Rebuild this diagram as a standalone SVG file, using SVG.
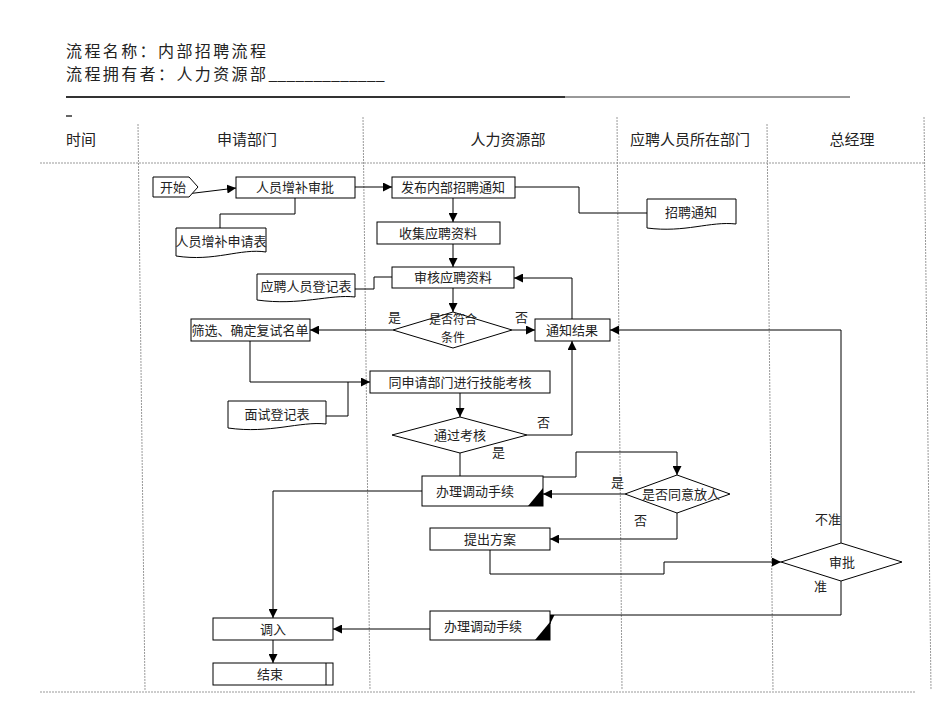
<svg xmlns="http://www.w3.org/2000/svg" width="950" height="713" viewBox="0 0 950 713">
<style>
text{font-family:"Noto Sans CJK SC","Liberation Serif",sans-serif;fill:#222;}
.t{font-size:13px;text-anchor:middle;}
.t2{font-size:12px;text-anchor:middle;}
.lbl{font-size:13px;}
.hd{font-size:15px;}
.ttl{font-size:16px;letter-spacing:2.4px;}
.box{fill:#fff;stroke:#000;stroke-width:1;}
.ln{fill:none;stroke:#000;stroke-width:1;}
.lane{fill:none;stroke:#999;stroke-width:1;stroke-dasharray:2,1;}
</style>
<defs>
<marker id="ah" viewBox="0 0 10 10" refX="10" refY="5" markerWidth="9" markerHeight="9" markerUnits="userSpaceOnUse" orient="auto">
<path d="M0,0 L10,5 L0,10 Z" fill="#000"/>
</marker>
</defs>
<rect width="950" height="713" fill="#fff"/>
<g id="header">
<text class="ttl" x="66" y="57">流程名称：内部招聘流程</text>
<text class="ttl" x="66" y="80">流程拥有者：人力资源部<tspan letter-spacing="0">_____________</tspan></text>
<line x1="66" y1="97" x2="565" y2="97" stroke="#333" stroke-width="2"/>
<line x1="565" y1="97" x2="850" y2="97" stroke="#333" stroke-width="1"/>
<line x1="66" y1="116" x2="72" y2="116" stroke="#333" stroke-width="1.5"/>
<text class="hd" x="66" y="145">时间</text>
<text class="hd" x="247" y="145" text-anchor="middle">申请部门</text>
<text class="hd" x="508" y="145" text-anchor="middle">人力资源部</text>
<text class="hd" x="690" y="145" text-anchor="middle">应聘人员所在部门</text>
<text class="hd" x="852" y="145" text-anchor="middle">总经理</text>
</g>
<g id="lanes">
<line class="lane" x1="40" y1="163" x2="924" y2="163"/>
<line class="lane" x1="40" y1="692" x2="915" y2="692"/>
<line class="lane" x1="138" y1="124" x2="145" y2="690"/>
<line class="lane" x1="363" y1="117" x2="370" y2="690"/>
<line class="lane" x1="617" y1="117" x2="622" y2="690"/>
<line class="lane" x1="767" y1="124" x2="773" y2="690"/>
<line class="lane" x1="924" y1="117" x2="931" y2="690"/>
</g>
<g id="connectors">
<line class="ln" x1="170" y1="196" x2="236" y2="188" marker-end="url(#ah)"/>
<polyline class="ln" points="295,198 295,214 220,214 220,228"/>
<line class="ln" x1="355" y1="187" x2="392" y2="187" marker-end="url(#ah)"/>
<polyline class="ln" points="515,187 579,187 579,213 647,213"/>
<line class="ln" x1="453" y1="198" x2="453" y2="222" marker-end="url(#ah)"/>
<line class="ln" x1="453" y1="244" x2="453" y2="267" marker-end="url(#ah)"/>
<polyline class="ln" points="355,289 374,289 374,277 392,277"/>
<line class="ln" x1="453" y1="288" x2="453" y2="312" marker-end="url(#ah)"/>
<line class="ln" x1="393" y1="330" x2="310" y2="330" marker-end="url(#ah)"/>
<line class="ln" x1="512" y1="330" x2="535" y2="330" marker-end="url(#ah)"/>
<polyline class="ln" points="572,319 572,278 514,278" marker-end="url(#ah)"/>
<polyline class="ln" points="841,543 841,330 610,330" marker-end="url(#ah)"/>
<polyline class="ln" points="250,341 250,382 370,382" marker-end="url(#ah)"/>
<polyline class="ln" points="326,416 348,416 348,382"/>
<line class="ln" x1="460" y1="393" x2="460" y2="417" marker-end="url(#ah)"/>
<polyline class="ln" points="527,435 572,435 572,341" marker-end="url(#ah)"/>
<polyline class="ln" points="460,453 460,477 576,477 576,452 677,452 677,475" marker-end="url(#ah)"/>
<line class="ln" x1="625" y1="494" x2="543" y2="494" marker-end="url(#ah)"/>
<polyline class="ln" points="677,513 677,539 550,539" marker-end="url(#ah)"/>
<polyline class="ln" points="490,550 490,574 664,574 664,562 781,562" marker-end="url(#ah)"/>
<polyline class="ln" points="841,581 841,615 550,615 550,624" marker-end="url(#ah)"/>
<line class="ln" x1="430" y1="629" x2="333" y2="629" marker-end="url(#ah)"/>
<polyline class="ln" points="422,491 273,491 273,618" marker-end="url(#ah)"/>
<line class="ln" x1="273" y1="640" x2="273" y2="663" marker-end="url(#ah)"/>
</g>
<g id="start">
<path class="box" d="M153,177 H189 L198,187 L189,197 H153 Z"/>
<text class="t" x="173" y="192">开始</text>
</g>
<g id="n-approve">
<rect class="box" x="236" y="177" width="119" height="21"/>
<text class="t" x="295" y="192">人员增补审批</text>
</g>
<g id="d-form">
<path class="box" d="M176,228 H266 V252 C240,248 215,262 176,256 Z"/>
<text class="t" x="221" y="246">人员增补申请表</text>
</g>
<g id="n-publish">
<rect class="box" x="392" y="177" width="123" height="21"/>
<text class="t" x="453" y="192">发布内部招聘通知</text>
</g>
<g id="d-notice">
<path class="box" d="M647,199 H736 V224 C710,221 685,233 647,228 Z"/>
<text class="t" x="691" y="217">招聘通知</text>
</g>
<g id="n-collect">
<rect class="box" x="377" y="222" width="123" height="22"/>
<text class="t" x="438" y="238">收集应聘资料</text>
</g>
<g id="n-review">
<rect class="box" x="392" y="267" width="122" height="21"/>
<text class="t" x="453" y="282">审核应聘资料</text>
</g>
<g id="d-register">
<path class="box" d="M257,274 H355 V297 C330,294 300,306 257,300 Z"/>
<text class="t" x="306" y="291">应聘人员登记表</text>
</g>
<g id="q-qualify">
<path class="box" d="M453,312 L512,330 L453,348 L393,330 Z"/>
<text class="t2" x="453" y="324">是否符合</text>
<text class="t2" x="453" y="342">条件</text>
<text class="lbl" x="388" y="322">是</text>
<text class="lbl" x="515" y="322">否</text>
</g>
<g id="n-screen">
<rect class="box" x="191" y="319" width="119" height="22"/>
<text class="t" x="250" y="335">筛选、确定复试名单</text>
</g>
<g id="n-result">
<rect class="box" x="535" y="319" width="75" height="22"/>
<text class="t" x="572" y="335">通知结果</text>
</g>
<g id="n-test">
<rect class="box" x="370" y="371" width="180" height="22"/>
<text class="t" x="460" y="387">同申请部门进行技能考核</text>
</g>
<g id="d-interview">
<path class="box" d="M228,401 H326 V424 C300,421 270,434 228,428 Z"/>
<text class="t" x="277" y="419">面试登记表</text>
</g>
<g id="q-pass">
<path class="box" d="M460,417 L527,435 L460,453 L392,435 Z"/>
<text class="t" x="460" y="440">通过考核</text>
<text class="lbl" x="537" y="427">否</text>
<text class="lbl" x="492" y="457">是</text>
</g>
<g id="n-transfer1">
<rect class="box" x="422" y="476" width="121" height="30"/>
<path d="M528,506 L543,488 L543,506 Z" fill="#000"/>
<text class="t" x="475" y="496">办理调动手续</text>
</g>
<g id="q-release">
<path class="box" d="M677,475 L730,494 L677,513 L625,494 Z"/>
<text class="t" x="681" y="499">是否同意放人</text>
<text class="lbl" x="611" y="487">是</text>
<text class="lbl" x="634" y="525">否</text>
</g>
<g id="n-plan">
<rect class="box" x="430" y="528" width="120" height="22"/>
<text class="t" x="490" y="544">提出方案</text>
</g>
<g id="q-gm">
<path class="box" d="M841,543 L902,562 L841,581 L781,562 Z"/>
<text class="t" x="842" y="567">审批</text>
<text class="lbl" x="815" y="524">不准</text>
<text class="lbl" x="814" y="591">准</text>
</g>
<g id="n-transfer2">
<rect class="box" x="430" y="611" width="120" height="29"/>
<path d="M535,640 L550,622 L550,640 Z" fill="#000"/>
<text class="t" x="483" y="631">办理调动手续</text>
</g>
<g id="n-in">
<rect class="box" x="213" y="618" width="120" height="22"/>
<text class="t" x="273" y="634">调入</text>
</g>
<g id="n-end">
<rect class="box" x="213" y="663" width="120" height="22"/>
<line class="ln" x1="326" y1="663" x2="326" y2="685"/>
<text class="t" x="270" y="679">结束</text>
</g>
</svg>
